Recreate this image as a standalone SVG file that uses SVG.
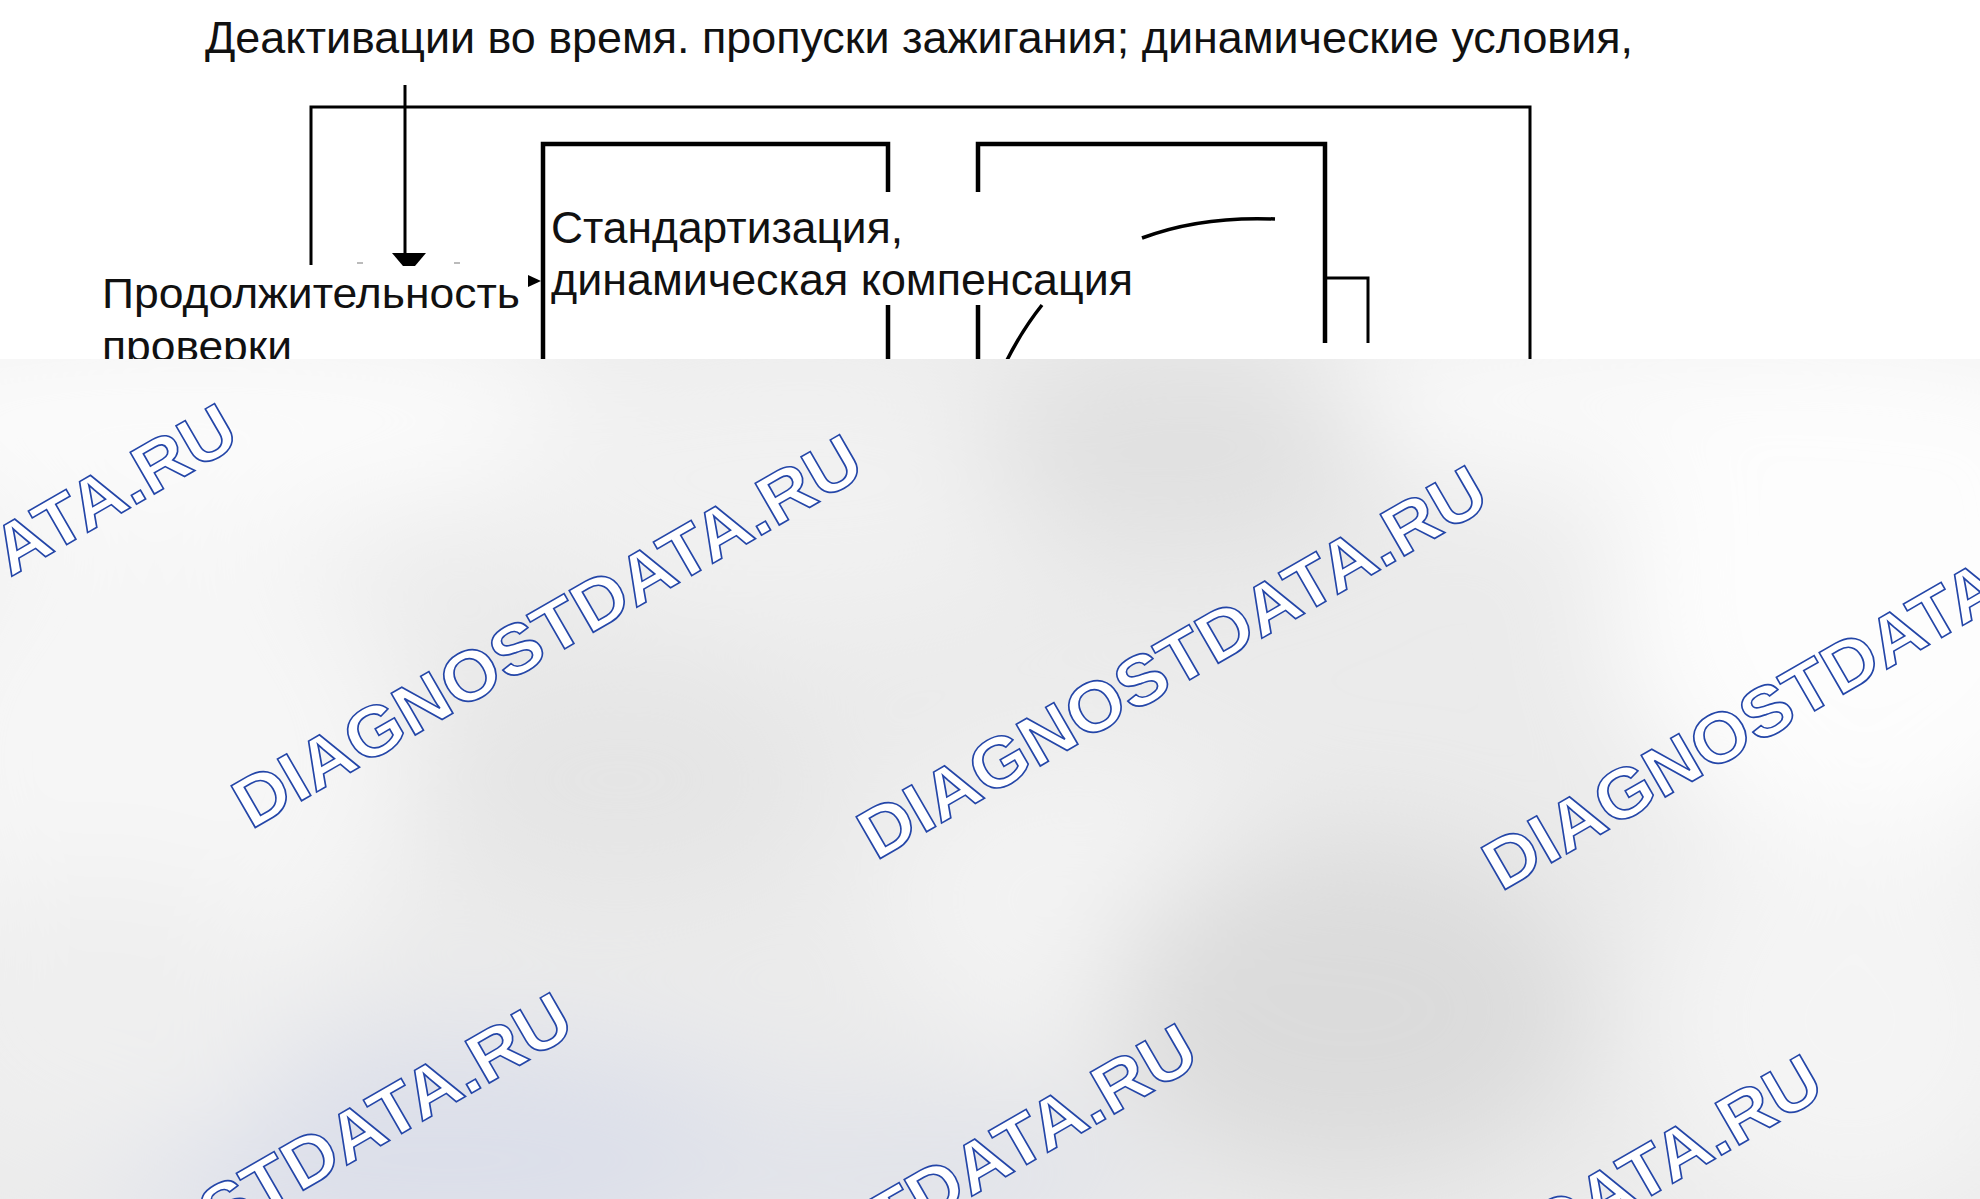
<svg xmlns="http://www.w3.org/2000/svg" width="1980" height="1199" viewBox="0 0 1980 1199">
<defs>
<style>
.ln{stroke:#000;fill:none;stroke-linecap:butt}
.t{font-family:"Liberation Sans",Arial,sans-serif;fill:#111}
.wm{font-family:"Liberation Sans",Arial,sans-serif;font-weight:bold;font-size:70px;fill:#fff;stroke:#2446a8;stroke-width:1.6}
</style>
<filter id="blur" filterUnits="userSpaceOnUse" x="-300" y="100" width="2600" height="1400"><feGaussianBlur stdDeviation="60"/></filter>
<clipPath id="ov"><rect x="0" y="359" width="1980" height="840"/></clipPath>
</defs>
<rect width="1980" height="1199" fill="#fff"/>

<g id="title">
<text class="t" x="205" y="53" font-size="44" textLength="1428" lengthAdjust="spacingAndGlyphs">Деактивации во время. пропуски зажигания; динамические условия,</text>
</g>

<g id="connectors">
<line class="ln" x1="405" y1="85" x2="405" y2="256" stroke-width="3"/>
<polygon points="392,253 426,253 415,266 403,266" fill="#000"/>
<path class="ln" d="M311,265 V107 H1530 V360" stroke-width="3"/>
<path class="ln" d="M543,360 V144 H888 V192 M888,305 V360" stroke-width="4.5"/>
<path class="ln" d="M978,192 V144 H1325 V343 M978,305 V360" stroke-width="4.5"/>
<path class="ln" d="M1325,278 H1368 V343" stroke-width="3"/>
<path class="ln" d="M1142,238 Q1200,216 1275,219" stroke-width="3.5"/>
<path class="ln" d="M1042,305 Q1022,330 1006,362" stroke-width="3.5"/>
<polygon points="528,275 541,281 528,287" fill="#000"/>
<rect x="357" y="262" width="6" height="2" fill="#bbb"/>
<rect x="454" y="262" width="6" height="2" fill="#bbb"/>
</g>

<g id="node-standardization">
<text class="t" x="551" y="243" font-size="45" textLength="352" lengthAdjust="spacingAndGlyphs">Стандартизация,</text>
<text class="t" x="551" y="295" font-size="45" textLength="582" lengthAdjust="spacingAndGlyphs">динамическая компенсация</text>
</g>

<g id="node-duration">
<text class="t" x="102" y="308" font-size="43" textLength="418" lengthAdjust="spacingAndGlyphs">Продолжительность</text>
<text class="t" x="102" y="361" font-size="43" textLength="190" lengthAdjust="spacingAndGlyphs">проверки</text>
</g>

<g id="overlay" clip-path="url(#ov)">
<rect x="0" y="359" width="1980" height="840" fill="#ebebeb"/>
<g filter="url(#blur)">
<ellipse cx="200" cy="420" rx="450" ry="110" fill="#fbfbfb"/>
<ellipse cx="1700" cy="400" rx="450" ry="90" fill="#fafafa"/>
<ellipse cx="150" cy="760" rx="260" ry="260" fill="#f6f6f6"/>
<ellipse cx="1870" cy="600" rx="260" ry="260" fill="#fdfdfd"/>
<ellipse cx="800" cy="480" rx="300" ry="140" fill="#f1f1f1"/>
<ellipse cx="1080" cy="900" rx="200" ry="150" fill="#f3f3f3"/>
<ellipse cx="1180" cy="450" rx="200" ry="100" fill="#e0e0e0"/>
<ellipse cx="1350" cy="1010" rx="240" ry="170" fill="#dbdbdb"/>
<ellipse cx="620" cy="780" rx="200" ry="120" fill="#e5e5e5"/>
<ellipse cx="450" cy="1160" rx="360" ry="120" fill="#dcdfea"/>
<ellipse cx="900" cy="1180" rx="250" ry="80" fill="#e1e3ea"/>
<ellipse cx="1850" cy="1020" rx="200" ry="200" fill="#f4f4f4"/>
<ellipse cx="100" cy="1020" rx="200" ry="150" fill="#efefef"/>
</g>
<g id="watermarks">
<text class="wm" x="-374" y="799" transform="rotate(-30 -374 799)" textLength="712" lengthAdjust="spacingAndGlyphs">DIAGNOSTDATA.RU</text>
<text class="wm" x="251" y="830" transform="rotate(-30 251 830)" textLength="712" lengthAdjust="spacingAndGlyphs">DIAGNOSTDATA.RU</text>
<text class="wm" x="876" y="861" transform="rotate(-30 876 861)" textLength="712" lengthAdjust="spacingAndGlyphs">DIAGNOSTDATA.RU</text>
<text class="wm" x="1501" y="892" transform="rotate(-30 1501 892)" textLength="712" lengthAdjust="spacingAndGlyphs">DIAGNOSTDATA.RU</text>
<text class="wm" x="-39" y="1388" transform="rotate(-30 -39 1388)" textLength="712" lengthAdjust="spacingAndGlyphs">DIAGNOSTDATA.RU</text>
<text class="wm" x="586" y="1419" transform="rotate(-30 586 1419)" textLength="712" lengthAdjust="spacingAndGlyphs">DIAGNOSTDATA.RU</text>
<text class="wm" x="1211" y="1450" transform="rotate(-30 1211 1450)" textLength="712" lengthAdjust="spacingAndGlyphs">DIAGNOSTDATA.RU</text>
</g>
</g>
</svg>
